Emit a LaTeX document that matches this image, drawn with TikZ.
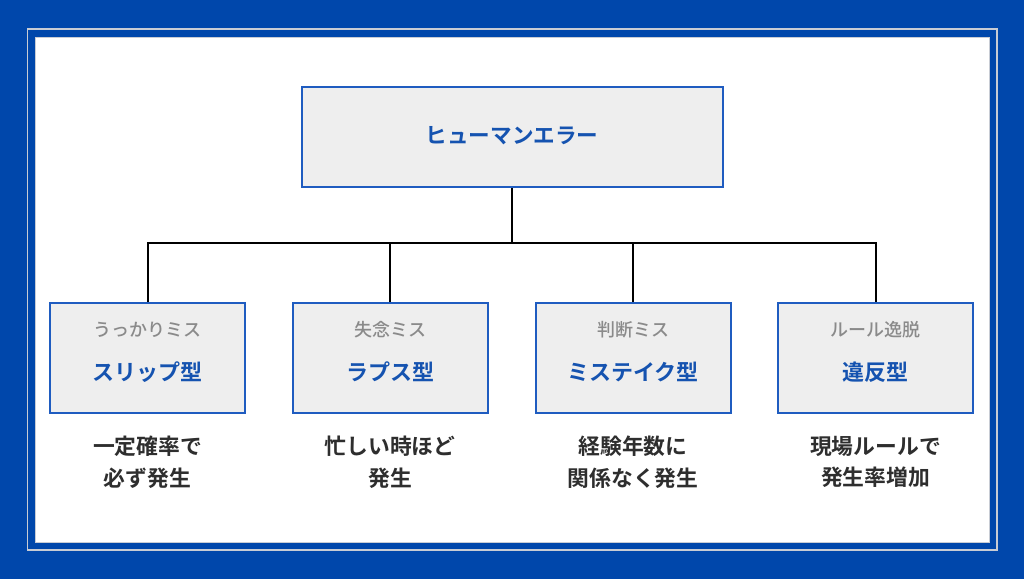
\documentclass[tikz,border=0pt]{standalone}
\usepackage{fontspec}
\newfontfamily\jpb{Noto Sans CJK JP Bold}
\newfontfamily\jpm{Noto Sans CJK JP Medium}
\definecolor{bgblue}{HTML}{0047AB}
\definecolor{boxblue}{HTML}{1F5CC0}
\definecolor{txtblue}{HTML}{1553B0}
\definecolor{boxfill}{HTML}{EEEEEE}
\definecolor{subgray}{HTML}{8A8A8A}
\definecolor{desc}{HTML}{2E2E2E}
\definecolor{frameline}{HTML}{C8CCD4}
\begin{document}
\begin{tikzpicture}[x=1pt,y=-1pt,
  catbox/.style={draw=boxblue,line width=2pt,fill=boxfill},
  maintitle/.style={font=\jpb\fontsize{21.6}{24}\selectfont,text=txtblue},
  subt/.style={font=\jpm\fontsize{18}{20}\selectfont,text=subgray},
  ttl/.style={font=\jpb\fontsize{22}{24}\selectfont,text=txtblue},
  dsc/.style={font=\jpb\fontsize{21.8}{31.5}\selectfont,text=desc,align=center},
  conn/.style={line width=2pt,black}]
\fill[bgblue] (0,0) rectangle (1024,579);
\useasboundingbox (0,0) rectangle (1024,579);
\draw[frameline,line width=1.5pt] (27.5,29) rectangle (997,550);
\fill[white] (35,37) rectangle (989,542);
\draw[frameline,line width=0.6pt] (35,37) rectangle (989,542);
% top box
\node[catbox,minimum width=421pt,minimum height=100pt] (top) at (512,137) {};
\node[maintitle] (topt) at (512,136) {ヒューマンエラー};
% bottom boxes
\foreach \n/\x in {a/147.5,b/390,c/633,d/875.5}{
  \node[catbox,minimum width=195pt,minimum height=110pt] (\n) at (\x,358) {};
}
\node[subt] (as) at (147.5,330) {うっかりミス};
\node[ttl] (at) at (147.5,372) {スリップ型};
\node[subt] (bs) at (390,330) {失念ミス};
\node[ttl] (bt) at (390,372) {ラプス型};
\node[subt] (cs) at (633,330) {判断ミス};
\node[ttl] (ct) at (633,372) {ミステイク型};
\node[subt] (ds) at (875.5,330) {ルール逸脱};
\node[ttl] (dt) at (875.5,372) {違反型};
\node[dsc] (ad) at (147.5,462) {一定確率で\\必ず発生};
\node[dsc] (bd) at (390,462) {忙しい時ほど\\発生};
\node[dsc] (cd) at (633,462) {経験年数に\\関係なく発生};
\node[dsc] (dd) at (875.5,462) {現場ルールで\\発生率増加};
% connectors
\coordinate (j) at (512,243);
\draw[conn] (top.south) -- (j);
\draw[conn] (a.north) |- (d.north |- j) -- (d.north);
\draw[conn] (b.north) -- (b.north |- j);
\draw[conn] (c.north) -- (c.north |- j);
\end{tikzpicture}
\end{document}
